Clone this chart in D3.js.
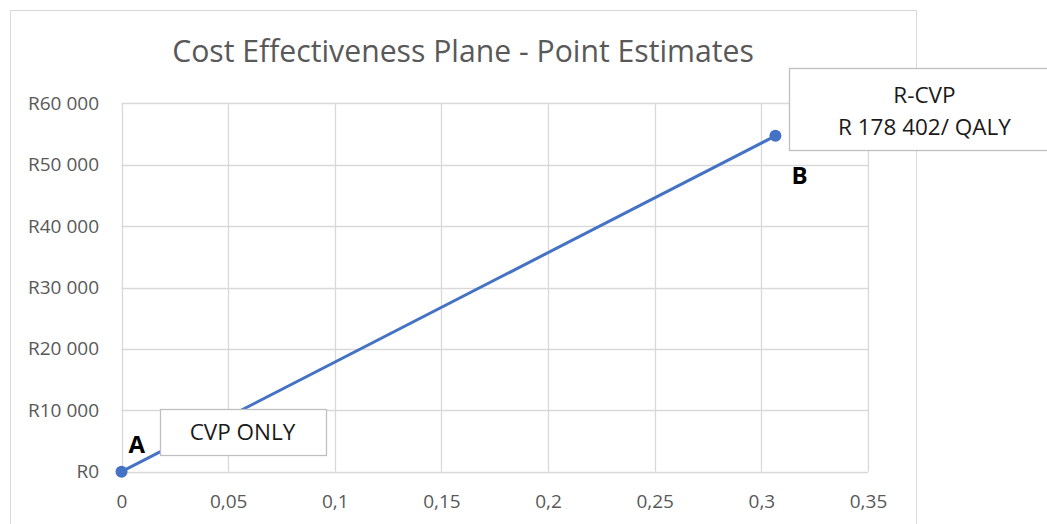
<!DOCTYPE html>
<html>
<head>
<meta charset="utf-8">
<script src="https://cdn.jsdelivr.net/npm/d3@7"></script>
<style>
  html, body { margin: 0; padding: 0; background: #fff; }
  svg { display: block; }
</style>
</head>
<body>
<svg id="chart" width="1047" height="524"></svg>
<script>
// ---- data ----
const chartTitle = "Cost Effectiveness Plane - Point Estimates";
const pointNames = ["A", "B"];
const effectValues = [0, 0.3066];      // incremental QALY
const costValues = [0, 54700];         // incremental cost (R)
const xTickValues = [0, 0.05, 0.1, 0.15, 0.2, 0.25, 0.3, 0.35];
const yTickValues = [0, 10000, 20000, 30000, 40000, 50000, 60000];
const calloutTexts = [["CVP ONLY"], ["R-CVP", "R 178 402/ QALY"]];

// ---- layout ----
const W = 1047, H = 524;
const svg = d3.select("#chart");
const FONT = "'Open Sans', 'Noto Sans', sans-serif";

const loc = d3.formatLocale({ decimal: ",", thousands: " ", grouping: [3], currency: ["R", ""] });
const fmtY = v => "R" + loc.format(",")(v);
const fmtX = v => loc.format("")(v).replace(".", ",");

const x = d3.scaleLinear().domain([0, 0.35]).range([121.5, 868]);
const y = d3.scaleLinear().domain([0, 60000]).range([471.7, 103.3]);

// outer frame
svg.append("rect").attr("x", 10.5).attr("y", 10.5).attr("width", 906).attr("height", 530)
  .attr("fill", "#fff").attr("stroke", "#d9d9d9").attr("stroke-width", 1);

// title
const title = svg.append("text").attr("x", 463).attr("y", 62).attr("text-anchor", "middle")
  .attr("font-family", FONT).attr("font-size", 26).attr("fill", "#595959").text(chartTitle);
(function fit() {
  const w = title.node().getComputedTextLength();
  if (w > 0) title.attr("font-size", 26 * 582 / w);
})();

// gridlines
const grid = svg.append("g");
grid.selectAll("line.h").data(yTickValues).join("line")
  .attr("x1", x.range()[0]).attr("x2", x.range()[1])
  .attr("y1", d => Math.round(y(d)) + 0.5).attr("y2", d => Math.round(y(d)) + 0.5)
  .attr("stroke", "#d9d9d9").attr("stroke-width", 1.3);
grid.selectAll("line.v").data(xTickValues).join("line")
  .attr("y1", y.range()[0]).attr("y2", y.range()[1])
  .attr("x1", d => Math.round(x(d)) + 0.5).attr("x2", d => Math.round(x(d)) + 0.5)
  .attr("stroke", "#d9d9d9").attr("stroke-width", 1.3);

// axes (text only, via d3 axes)
const yAxis = d3.axisLeft(y).tickValues(yTickValues).tickFormat(fmtY).tickSize(0).tickPadding(0);
const gy = svg.append("g").attr("transform", "translate(99,0)").call(yAxis);
gy.select(".domain").remove();
gy.selectAll("text").attr("font-family", FONT).attr("font-size", 19).attr("fill", "#595959");

const xAxis = d3.axisBottom(x).tickValues(xTickValues).tickFormat(fmtX).tickSize(0).tickPadding(0);
const gx = svg.append("g").attr("transform", "translate(0,494)").call(xAxis);
gx.select(".domain").remove();
gx.selectAll("text").attr("font-family", FONT).attr("font-size", 19).attr("fill", "#595959");

// series
const pts = effectValues.map((e, i) => ({ e, c: costValues[i], name: pointNames[i] }));
svg.append("path").datum(pts)
  .attr("d", d3.line().x(d => x(d.e)).y(d => y(d.c)))
  .attr("fill", "none").attr("stroke", "#4472c4").attr("stroke-width", 3);
svg.selectAll("circle.pt").data(pts).join("circle")
  .attr("cx", d => x(d.e)).attr("cy", d => y(d.c)).attr("r", 6).attr("fill", "#4472c4");

// point letters
const letterOffsets = [[7, -19], [16, 48]];
svg.selectAll("text.letter").data(pts).join("text")
  .attr("x", (d, i) => x(d.e) + letterOffsets[i][0])
  .attr("y", (d, i) => y(d.c) + letterOffsets[i][1])
  .attr("font-family", FONT).attr("font-weight", "bold").attr("font-size", 24)
  .attr("fill", "#000").text(d => d.name);

// callout boxes
const boxes = [
  { x0: x(0) + 38, y0: y(0) - 62.5, w: 166, h: 46, dy: 8 },
  { x0: x(0.3066) + 14, y0: y(54700) - 67.5, w: 270, h: 82, dy: 10 }
];
boxes.forEach((b, i) => {
  const g = svg.append("g");
  g.append("rect").attr("x", Math.round(b.x0) + 0.5).attr("y", Math.round(b.y0) + 0.5)
    .attr("width", b.w).attr("height", b.h)
    .attr("fill", "#fff").attr("stroke", "#bfbfbf").attr("stroke-width", 1.3);
  const lines = calloutTexts[i];
  const cx = i === 0 ? b.x0 + b.w / 2 : b.x0 + 135;
  const lh = 32;
  const startY = b.y0 + b.h / 2 - (lines.length - 1) * lh / 2 + b.dy;
  lines.forEach((t, k) => {
    g.append("text").attr("x", cx).attr("y", startY + k * lh).attr("text-anchor", "middle")
      .attr("font-family", FONT).attr("font-size", 22.5).attr("fill", "#1a1a1a").text(t);
  });
});
</script>
</body>
</html>
